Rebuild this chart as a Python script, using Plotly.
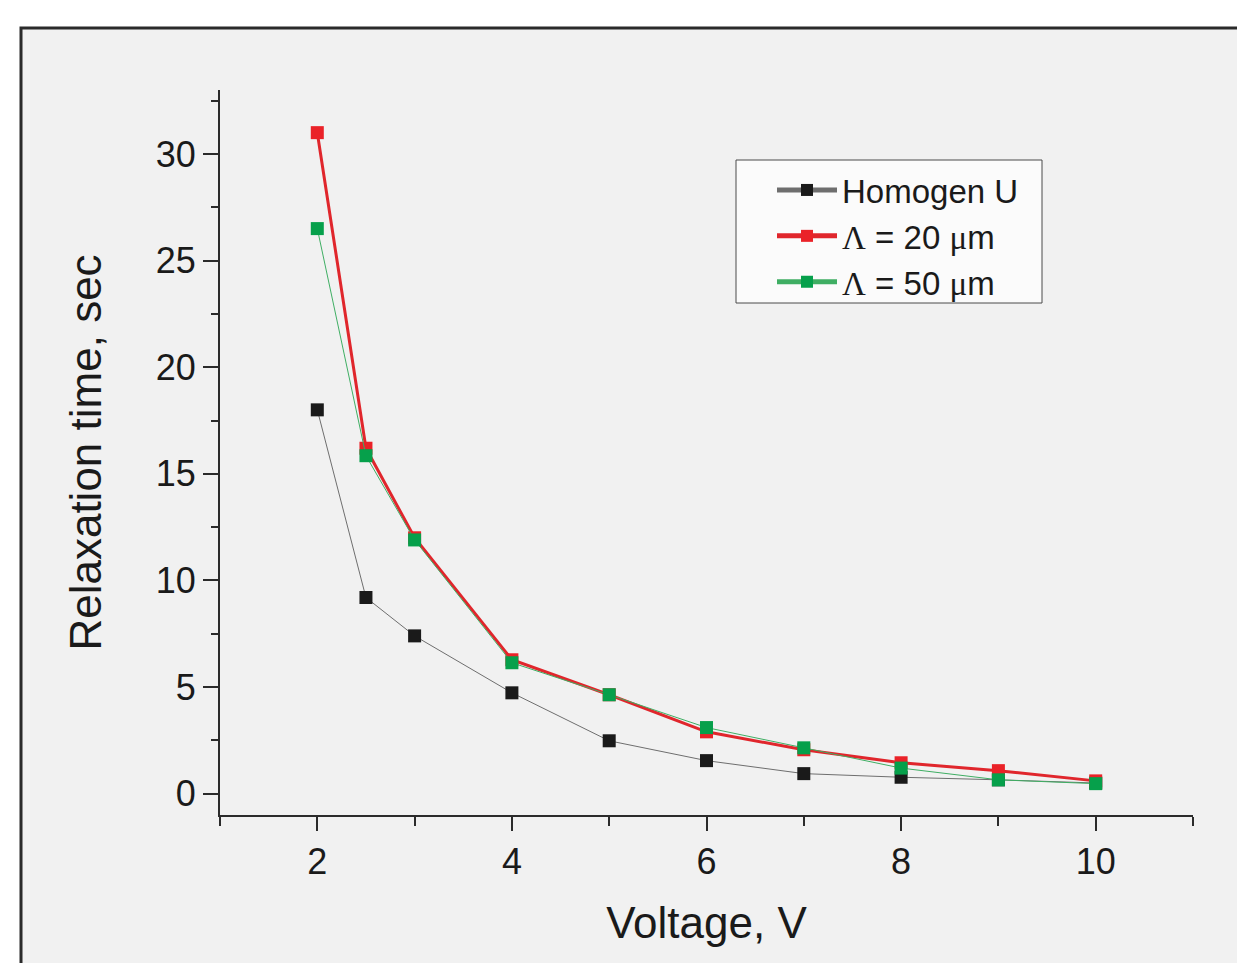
import plotly.graph_objects as go

voltage = [2, 2.5, 3, 4, 5, 6, 7, 8, 9, 10]
homogen_u = [18.0, 9.2, 7.4, 4.73, 2.48, 1.55, 0.94, 0.77, 0.65, 0.5]
lambda_20 = [31.0, 16.2, 12.0, 6.28, 4.64, 2.9, 2.06, 1.45, 1.08, 0.6]
lambda_50 = [26.5, 15.85, 11.9, 6.14, 4.64, 3.1, 2.15, 1.2, 0.65, 0.47]

x_title = "Voltage, V"
y_title = "Relaxation time, sec"
names = [
    "Homogen U",
    "<span style='font-family:Liberation Serif'>Λ</span> = 20 <span style='font-family:Liberation Serif'>μ</span>m",
    "<span style='font-family:Liberation Serif'>Λ</span> = 50 <span style='font-family:Liberation Serif'>μ</span>m",
]

fig = go.Figure()
fig.add_trace(go.Scatter(
    x=voltage, y=homogen_u, name=names[0], mode="lines+markers",
    line=dict(color="#6e6e6e", width=1),
    marker=dict(symbol="square", size=13, color="#1a1a1a", line=dict(width=0)),
))
fig.add_trace(go.Scatter(
    x=voltage, y=lambda_20, name=names[1], mode="lines+markers",
    line=dict(color="#e0262c", width=3),
    marker=dict(symbol="square", size=13, color="#ea2228", line=dict(width=0)),
))
fig.add_trace(go.Scatter(
    x=voltage, y=lambda_50, name=names[2], mode="lines+markers",
    line=dict(color="#3fae63", width=1),
    marker=dict(symbol="square", size=13, color="#06a04b", line=dict(width=0)),
))

W, H = 1237, 963
L, T = 220, 90
R = W - 1193
B = H - 815
pw = W - L - R
ph = H - T - B

def px(xs):
    return (xs - L) / pw

def py(ys):
    return (H - B - ys) / ph

# outer framed panel
fig.add_shape(
    type="rect", xref="paper", yref="paper", layer="below",
    x0=px(21), x1=px(1300), y0=py(1020), y1=py(28),
    fillcolor="#f1f1f1", line=dict(color="#2b2b2b", width=3),
)
# legend frame
fig.add_shape(
    type="rect", xref="paper", yref="paper", layer="below",
    x0=px(736), x1=px(1042), y0=py(303), y1=py(160),
    fillcolor="#fbfbfb", line=dict(color="#4a4a4a", width=1),
)

axis_font = dict(family="Liberation Sans, Arial, sans-serif", size=36, color="#1a1a1a")
title_font = dict(family="Liberation Sans, Arial, sans-serif", size=44, color="#1a1a1a")

fig.update_layout(
    width=W, height=H,
    margin=dict(l=L, r=R, t=T, b=B, autoexpand=False),
    paper_bgcolor="white",
    plot_bgcolor="rgba(0,0,0,0)",
    showlegend=True,
    legend=dict(
        x=px(772), y=py(162), xanchor="left", yanchor="top",
        bgcolor="rgba(0,0,0,0)", borderwidth=0,
        font=dict(family="Liberation Sans, Arial, sans-serif", size=33, color="#1a1a1a"),
        tracegroupgap=0, itemsizing="constant", itemwidth=60,
    ),
    xaxis=dict(
        range=[1, 11], tickvals=[2, 4, 6, 8, 10], ticks="outside", ticklen=14,
        tickwidth=2, tickcolor="#2b2b2b",
        minor=dict(tickvals=[1, 3, 5, 7, 9, 11], ticks="outside", ticklen=9, tickwidth=2, tickcolor="#2b2b2b"),
        showline=True, linecolor="#2b2b2b", linewidth=2, showgrid=False, zeroline=False,
        tickfont=axis_font,
        title=dict(text=x_title, font=title_font, standoff=26),
    ),
    yaxis=dict(
        range=[-1, 33], tickvals=[0, 5, 10, 15, 20, 25, 30], ticks="outside", ticklen=15,
        tickwidth=2, tickcolor="#2b2b2b",
        minor=dict(tickvals=[2.5, 7.5, 12.5, 17.5, 22.5, 27.5, 32.5], ticks="outside", ticklen=7, tickwidth=2, tickcolor="#2b2b2b"),
        showline=True, linecolor="#2b2b2b", linewidth=2, showgrid=False, zeroline=False,
        tickfont=axis_font,
        title=dict(text=y_title, font=title_font, standoff=40),
    ),
)

fig.write_html(
    "out.html",
    config={"displayModeBar": False},
    post_script="document.body.style.margin='0';document.body.style.overflow='hidden';",
)
